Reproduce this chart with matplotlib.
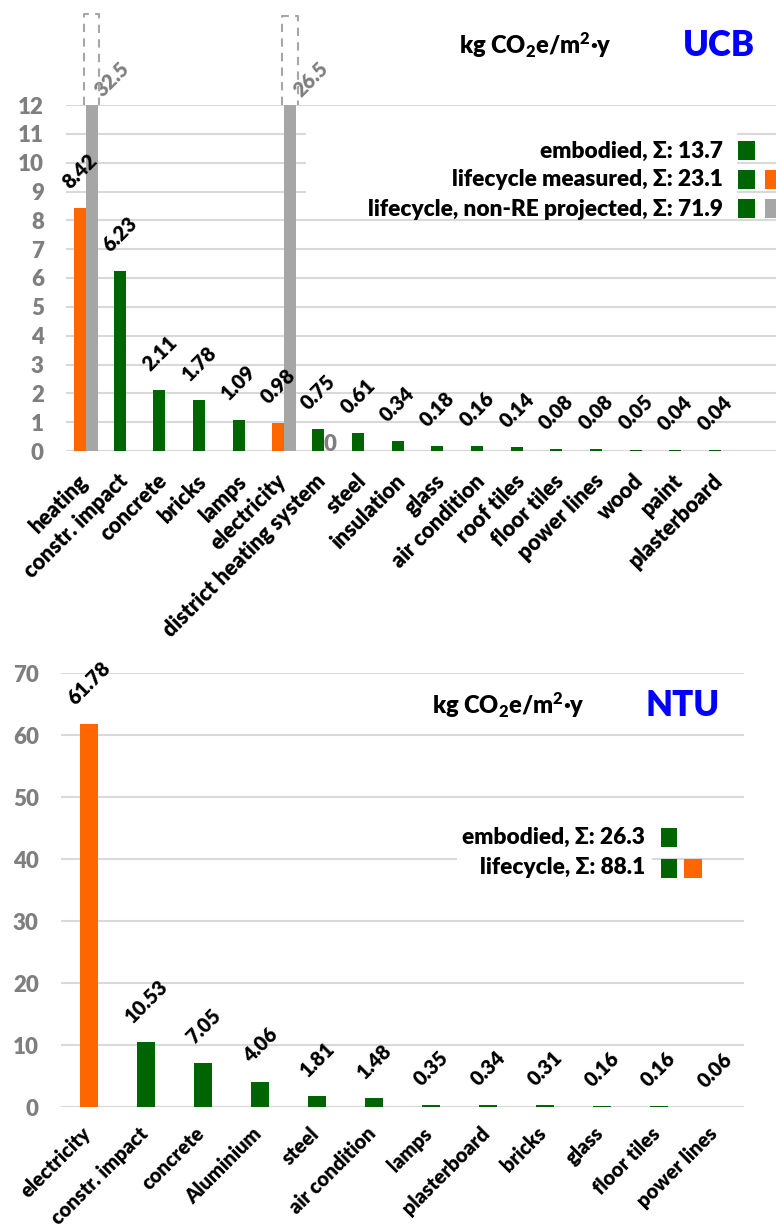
import matplotlib
matplotlib.use("Agg")
import matplotlib.pyplot as plt
from matplotlib.patches import Rectangle
from matplotlib.lines import Line2D
from matplotlib.transforms import ScaledTranslation
import numpy as np

plt.rcParams['font.family'] = ['Lato', 'DejaVu Sans']
plt.rcParams['font.weight'] = 'heavy'
plt.rcParams['mathtext.fontset'] = 'custom'
plt.rcParams['mathtext.rm'] = 'Lato:heavy'
plt.rcParams['mathtext.bf'] = 'Lato:heavy'
plt.rcParams['mathtext.it'] = 'Lato:heavy'

# ---------------- data ----------------
ucb_categories = ["heating", "constr. impact", "concrete", "bricks", "lamps", "electricity",
                  "district heating system", "steel", "insulation", "glass", "air condition",
                  "roof tiles", "floor tiles", "power lines", "wood", "paint", "plasterboard"]
ucb_values = [8.42, 6.23, 2.11, 1.78, 1.09, 0.98, 0.75, 0.61, 0.34, 0.18, 0.16, 0.14,
              0.08, 0.08, 0.05, 0.04, 0.04]
ucb_kind = ["op", "em", "em", "em", "em", "op", "em", "em", "em", "em", "em", "em",
            "em", "em", "em", "em", "em"]
# projected non-RE (gray) series: category -> value
ucb_proj_cats = ["heating", "electricity", "district heating system"]
ucb_proj_values = [32.5, 26.5, 0]
ucb_ymax = 12
ucb_ticks = list(range(0, 13))
ucb_legend = ["embodied, \u03a3: 13.7", "lifecycle measured, \u03a3: 23.1",
              "lifecycle, non-RE projected, \u03a3: 71.9"]

ntu_categories = ["electricity", "constr. impact", "concrete", "Aluminium", "steel",
                  "air condition", "lamps", "plasterboard", "bricks", "glass",
                  "floor tiles", "power lines"]
ntu_values = [61.78, 10.53, 7.05, 4.06, 1.81, 1.48, 0.35, 0.34, 0.31, 0.16, 0.16, 0.06]
ntu_kind = ["op", "em", "em", "em", "em", "em", "em", "em", "em", "em", "em", "em"]
ntu_ymax = 70
ntu_ticks = list(range(0, 71, 10))
ntu_legend = ["embodied, \u03a3: 26.3", "lifecycle, \u03a3: 88.1"]

unit_label = "kg CO$_\\mathbf{2}$e/m$^\\mathbf{2}$$\\bullet$y"

# ---------------- style ----------------
GREEN = "#006400"
ORANGE = "#FF6600"
GRAY = "#A6A6A6"
TICKGRAY = "#7F7F7F"
GRID = "#D9D9D9"
BLUE = "#0000FF"
COLORS = {"em": GREEN, "op": ORANGE}

W, H = 776, 1226
fig = plt.figure(figsize=(W / 100, H / 100), dpi=100)


def ax_rect(l, r, b, t):
    return [l / W, (H - b) / H, (r - l) / W, (b - t) / H]


def fig_rect(x0, y0, x1, y1, color, z=5):
    fig.add_artist(Rectangle((x0 / W, (H - y1) / H), (x1 - x0) / W, (y1 - y0) / H,
                             transform=fig.transFigure, facecolor=color,
                             edgecolor='none', zorder=z))


def fig_text(x, y, s, **kw):
    fig.text(x / W, (H - y) / H, s, **kw)


def style_axes(ax, ticks, ymax, tick_dx, tick_pad, xsize):
    ax.set_ylim(0, ymax)
    ax.set_yticks(ticks)
    ax.yaxis.grid(True, color=GRID, linewidth=1.5)
    ax.set_axisbelow(True)
    for s in ax.spines.values():
        s.set_visible(False)
    ax.tick_params(axis='y', length=0, pad=16, labelsize=16, labelcolor=TICKGRAY)
    ax.tick_params(axis='x', length=0, pad=tick_pad, labelsize=xsize)
    for lab in ax.get_xticklabels():
        lab.set_rotation(45)
        lab.set_ha('right')
        lab.set_va('top')
        lab.set_fontweight('heavy')
        lab.set_transform(lab.get_transform() +
                          ScaledTranslation(tick_dx / 100, 0, fig.dpi_scale_trans))
    for lab in ax.get_yticklabels():
        lab.set_fontweight('heavy')


def value_label(ax, x, v, text, color='black', dx=0, dy=16, rot=45, size=14.5):
    ax.annotate(text, (x, v), xytext=(dx, dy), textcoords='offset pixels',
                ha='center', va='bottom', rotation=rot, fontsize=size,
                color=color, fontweight='heavy', annotation_clip=False)


# ================= UCB (top) =================
ax1 = fig.add_axes(ax_rect(66, 776, 451, 105))
n1 = len(ucb_categories)
x1 = np.arange(n1)
bw1 = 0.302
ax1.set_xlim(-0.504, 17.385)
ax1.bar(x1 - bw1 / 2, ucb_values, width=bw1, color=[COLORS[k] for k in ucb_kind],
        zorder=3)
proj_idx = [ucb_categories.index(c) for c in ucb_proj_cats]
ax1.bar(np.array(proj_idx) + bw1 / 2, ucb_proj_values, width=bw1, color=GRAY, zorder=3)
ax1.axhline(0, color=GRID, linewidth=1.5, zorder=2)
ax1.set_xticks(x1)
ax1.set_xticklabels(ucb_categories)
style_axes(ax1, ucb_ticks, ucb_ymax, 6, 14, 15.5)

for i, v in enumerate(ucb_values):
    value_label(ax1, i - bw1 / 2, v, f"{v:.2f}")
break_tops = [15.16, 15.1]
for j, (i, v) in enumerate(zip(proj_idx, ucb_proj_values)):
    if v > ucb_ymax:
        xl = i - 0.05
        xr = i + bw1 + 0.03
        top = break_tops[j]
        ax1.add_line(Line2D([xl, xl, xr, xr], [ucb_ymax, top, top, ucb_ymax],
                            color=GRAY, linestyle=(0, (4, 3)), linewidth=1.5,
                            clip_on=False, zorder=4))
        value_label(ax1, i + bw1 / 2, ucb_ymax, f"{v:g}", color=TICKGRAY, dx=20, dy=5)
    else:
        ax1.text(i + bw1 / 2, v, f"{v:g}", ha='center', va='baseline', fontsize=16,
                 color=TICKGRAY, fontweight='heavy')

# white legend area covering gridlines
fig_rect(306, 120, 737, 204, 'white', z=5)
fig_text(612, 45, unit_label, ha='right', va='center', fontsize=17, zorder=6)
fig_text(755, 45, "UCB", ha='right', va='center', fontsize=25, color=BLUE,
         fontweight='heavy', zorder=6)
rows1 = [151, 180, 209]
for k, (yy, s) in enumerate(zip(rows1, ucb_legend)):
    fig_text(723, yy, s, ha='right', va='center', fontsize=16.3, zorder=6)
    fig_rect(738, yy - 10, 755, yy + 9, GREEN, z=6)
    if k == 1:
        fig_rect(765, yy - 10, 782, yy + 9, ORANGE, z=6)
    if k == 2:
        fig_rect(765, yy - 10, 782, yy + 9, GRAY, z=6)

# ================= NTU (bottom) =================
ax2 = fig.add_axes(ax_rect(61, 744, 1107, 673))
n2 = len(ntu_categories)
x2 = np.arange(n2)
bw2 = 0.316
ax2.set_xlim(-0.5, n2 - 0.5)
ax2.bar(x2, ntu_values, width=bw2, color=[COLORS[k] for k in ntu_kind], zorder=3)
ax2.axhline(0, color=GRID, linewidth=1.5, zorder=2)
ax2.set_xticks(x2)
ax2.set_xticklabels(ntu_categories)
style_axes(ax2, ntu_ticks, ntu_ymax, 5, 12, 14.5)
for i, v in enumerate(ntu_values):
    value_label(ax2, i, v, f"{v:.2f}")

fig_rect(457, 845, 652, 875, 'white', z=5)
fig_text(585, 705, unit_label, ha='right', va='center', fontsize=17, zorder=6)
fig_text(720, 706, "NTU", ha='right', va='center', fontsize=25, color=BLUE,
         fontweight='heavy', zorder=6)
rows2 = [837, 868]
for k, (yy, s) in enumerate(zip(rows2, ntu_legend)):
    fig_text(645, yy, s, ha='right', va='center', fontsize=16.3, zorder=6)
    fig_rect(661, yy - 9, 677, yy + 10, GREEN, z=6)
    if k == 1:
        fig_rect(684, yy - 9, 702, yy + 10, ORANGE, z=6)

fig.savefig("out.png", dpi=100)
